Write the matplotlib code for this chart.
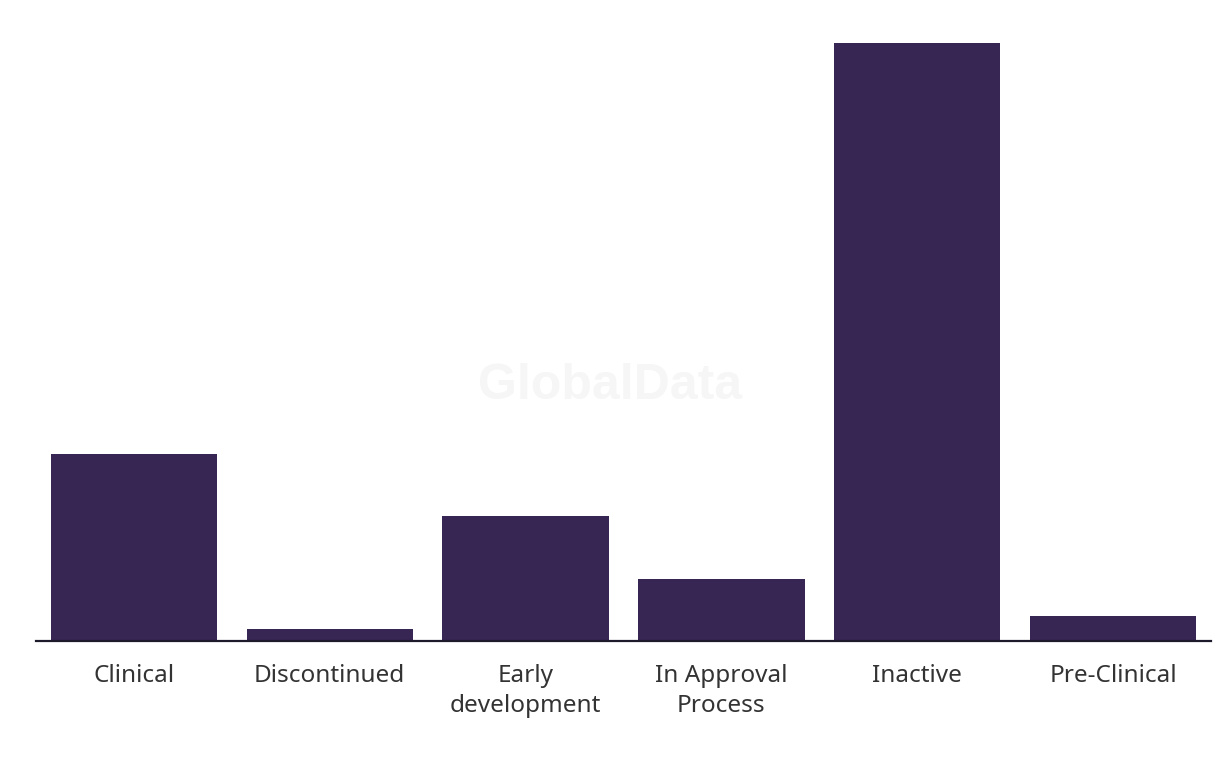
import matplotlib
matplotlib.use('Agg')
import matplotlib.pyplot as plt

# Data
stages = ['Clinical', 'Discontinued', 'Early\ndevelopment', 'In Approval\nProcess', 'Inactive', 'Pre-Clinical']
counts = [15, 1, 10, 5, 48, 2]

bar_color = '#372553'

fig = plt.figure(figsize=(12.2, 7.66), dpi=100)
ax = fig.add_axes([36 / 1220, 1 - 641 / 766, 1175 / 1220, 623 / 766])

ax.bar(range(len(stages)), counts, width=0.85, color=bar_color, zorder=2)

ax.set_xlim(-0.5, len(stages) - 0.5)
ax.set_ylim(0, 50)

# Only the baseline remains
for side in ['top', 'right', 'left']:
    ax.spines[side].set_visible(False)
ax.spines['bottom'].set_color('#1c1a2b')
ax.spines['bottom'].set_linewidth(1.6)
ax.set_yticks([])
ax.set_xticks(range(len(stages)))
ax.set_xticklabels(stages, fontsize=17.5, color='#333333', family='Noto Sans', linespacing=1.33)
ax.tick_params(axis='x', length=0, pad=16.5)

# Watermark
fig.text(0.5, 1 - 386 / 766, 'GlobalData', ha='center', va='center', fontsize=36,
         fontweight='bold', color='#f6f6f6', family='Liberation Sans', zorder=0)

fig.savefig('out.png', dpi=100)
